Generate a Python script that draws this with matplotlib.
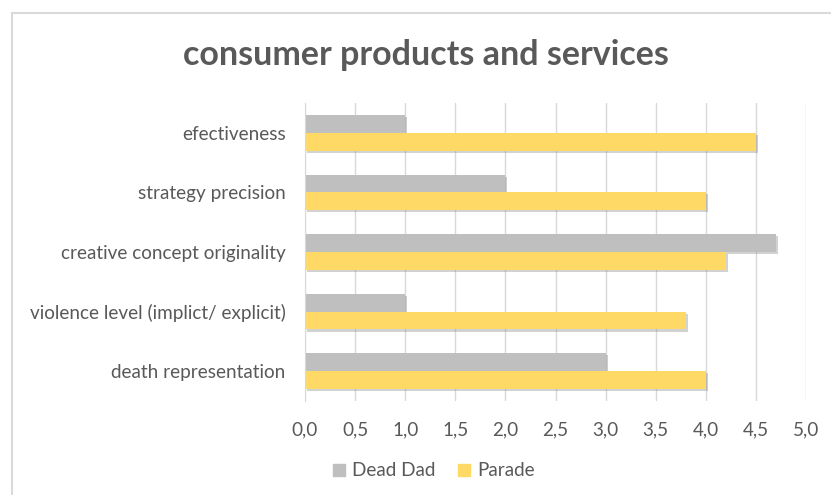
import matplotlib.pyplot as plt
import matplotlib.patheffects as pe
from matplotlib.patches import Rectangle, Patch
import numpy as np

plt.rcParams['font.family'] = ['Lato', 'DejaVu Sans']

# data, top to bottom as in the chart
categories = ['efectiveness', 'strategy precision', 'creative concept originality',
              'violence level (implict/ explicit)', 'death representation']
dead_dad = [1.0, 2.0, 4.7, 1.0, 3.0]
parade = [4.5, 4.0, 4.2, 3.8, 4.0]
xticks = [0.0, 0.5, 1.0, 1.5, 2.0, 2.5, 3.0, 3.5, 4.0, 4.5, 5.0]

grey = '#BFBFBF'
yellow = '#FFD966'
txt = '#595959'

fig = plt.figure(figsize=(8.31, 4.95), dpi=100)
# chart area border like excel
fig.patches.append(Rectangle((12 / 831, -0.1), 1.2, 1 - 13 / 495 + 0.1,
                             transform=fig.transFigure, fill=False,
                             edgecolor='#D9D9D9', linewidth=1.5))

ax = fig.add_axes([305 / 831, 1 - 401 / 495, 501 / 831, 298 / 495])

y = np.arange(len(categories))[::-1]
h = 0.3
shadow = [pe.SimplePatchShadow(offset=(1.5, -1.5), alpha=0.35, shadow_rgbFace='#808080'), pe.Normal()]
b1 = ax.barh(y + h / 2, dead_dad, height=h, color=grey, zorder=3)
b2 = ax.barh(y - h / 2, parade, height=h, color=yellow, zorder=3)
for b in list(b1) + list(b2):
    b.set_path_effects(shadow)

ax.set_xlim(0, 5)
ax.set_ylim(-0.5, 4.5)
ax.set_xticks(xticks)
ax.set_xticklabels([f'{v:.1f}'.replace('.', ',') for v in xticks])
ax.set_yticks(y)
ax.set_yticklabels(categories)
ax.tick_params(length=0, labelsize=13.6, colors=txt)
ax.tick_params(axis='x', pad=15)
ax.tick_params(axis='y', pad=14)
ax.grid(axis='x', color='#D9D9D9', linewidth=1, zorder=0)
for s in ['top', 'right', 'bottom']:
    ax.spines[s].set_visible(False)
ax.spines['left'].set_color('#D9D9D9')
ax.spines['left'].set_zorder(4)

fig.text(426 / 831, 1 - 55 / 495, 'consumer products and services',
         ha='center', va='center', fontsize=24.5, fontweight='bold', color=txt)

handles = [Patch(color=grey), Patch(color=yellow)]
fig.legend(handles=handles, labels=['Dead Dad', 'Parade'], loc='center',
           bbox_to_anchor=(434 / 831, 1 - 471 / 495), ncol=2, frameon=False,
           fontsize=13.6, labelcolor=txt, handlelength=0.6, handleheight=0.6,
           handletextpad=0.4, columnspacing=1.2)

fig.savefig('out.png', dpi=100)
